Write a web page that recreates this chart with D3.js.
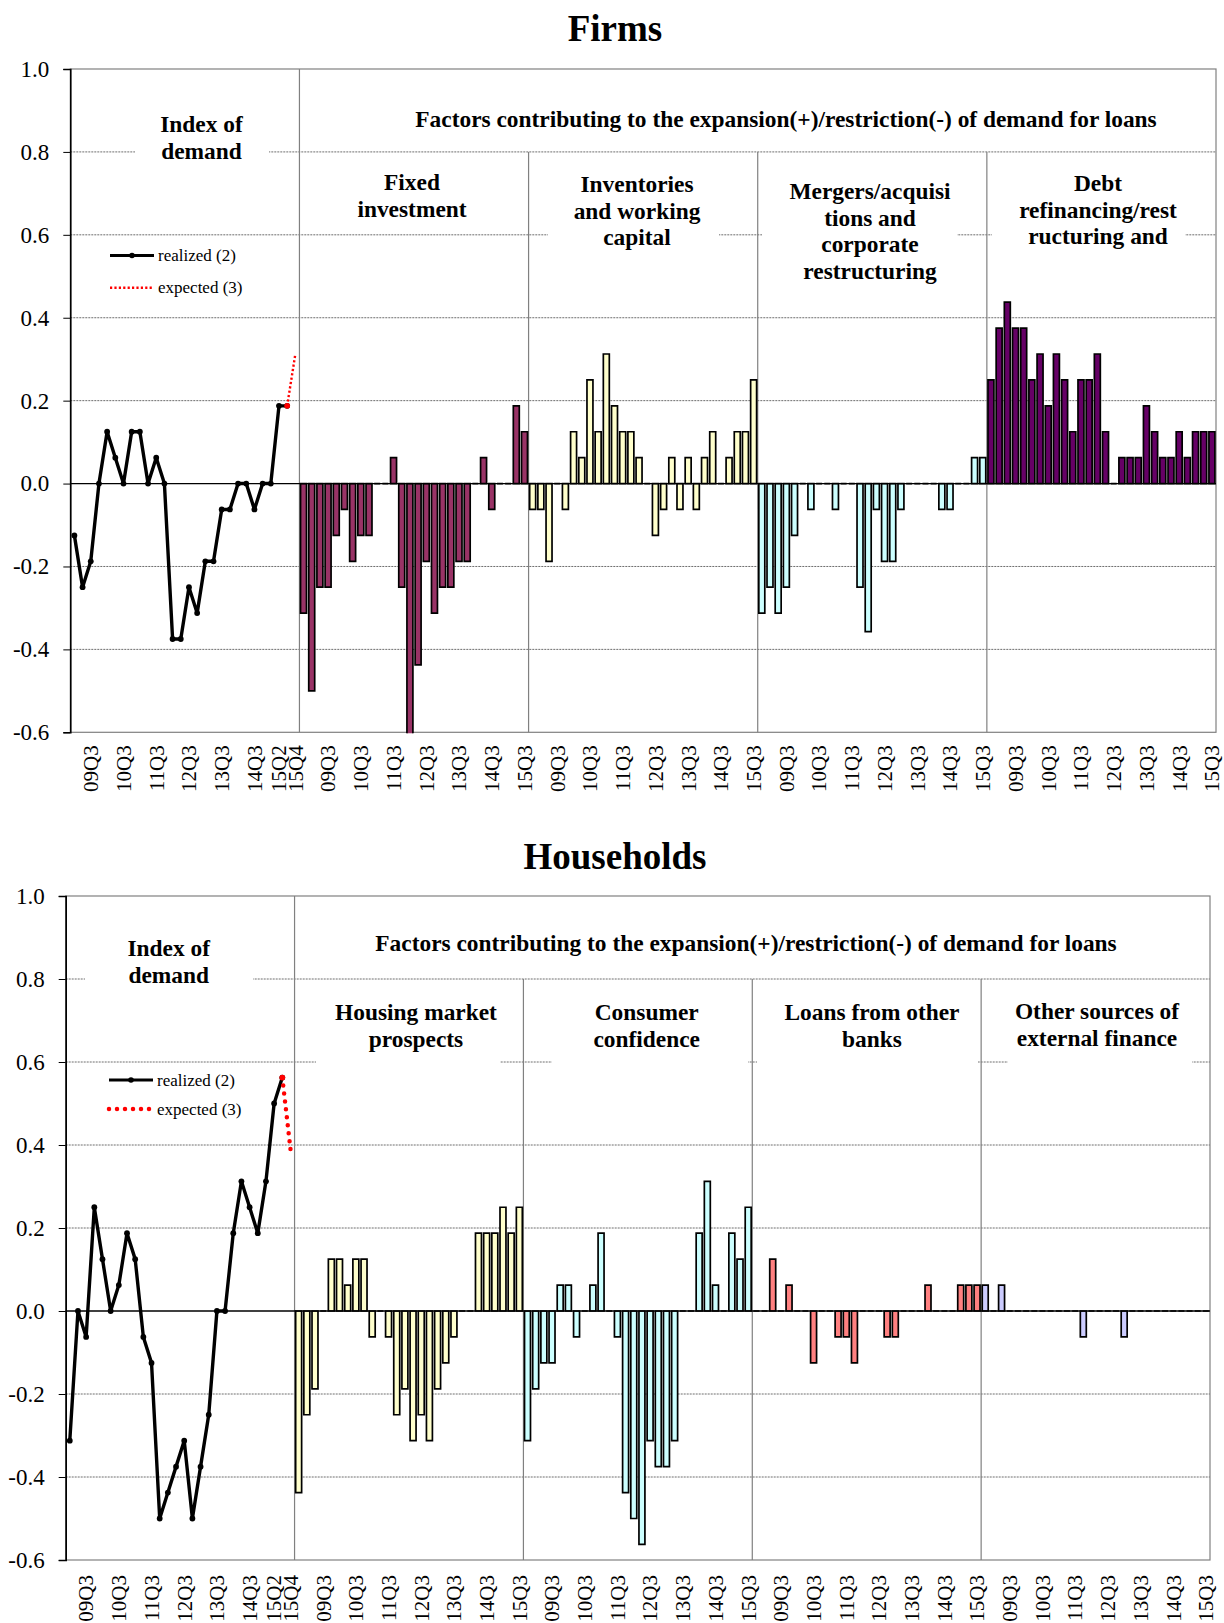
<!DOCTYPE html>
<html><head><meta charset="utf-8">
<script src="https://cdn.jsdelivr.net/npm/d3@7"></script>
<style>
body{margin:0;background:#fff}
svg{display:block}
text{font-family:"Liberation Serif","Times New Roman",serif;fill:#000}
</style>
</head><body>
<svg id="c" width="1224" height="1623"></svg>
<script>
// ---------------- DATA ----------------
const idxQuarters = ["09Q1","09Q2","09Q3","09Q4","10Q1","10Q2","10Q3","10Q4","11Q1","11Q2","11Q3","11Q4","12Q1","12Q2","12Q3","12Q4","13Q1","13Q2","13Q3","13Q4","14Q1","14Q2","14Q3","14Q4","15Q1","15Q2","15Q3","15Q4"];
const barQuarters = ["08Q4","09Q1","09Q2","09Q3","09Q4","10Q1","10Q2","10Q3","10Q4","11Q1","11Q2","11Q3","11Q4","12Q1","12Q2","12Q3","12Q4","13Q1","13Q2","13Q3","13Q4","14Q1","14Q2","14Q3","14Q4","15Q1","15Q2","15Q3"];
const idxTickLabels = ["09Q3","10Q3","11Q3","12Q3","13Q3","14Q3","15Q2","15Q4"];
const barTickLabels = ["09Q3","10Q3","11Q3","12Q3","13Q3","14Q3","15Q3"];
const yTicks = [1.0,0.8,0.6,0.4,0.2,0.0,-0.2,-0.4,-0.6];

// Firms
const firmsRealized = [-0.125,-0.25,-0.1875,0,0.125,0.0625,0,0.125,0.125,0,0.0625,0,-0.375,-0.375,-0.25,-0.3125,-0.1875,-0.1875,-0.0625,-0.0625,0,0,-0.0625,0,0,0.1875,0.1875];
const firmsExpected = [0.1875,0.3125]; // 15Q3 -> 15Q4
const firmsFixed = [-0.3125,-0.5,-0.25,-0.25,-0.125,-0.0625,-0.1875,-0.125,-0.125,0,0,0.0625,-0.25,-0.625,-0.4375,-0.1875,-0.3125,-0.25,-0.25,-0.1875,-0.1875,0,0.0625,-0.0625,0,0,0.1875,0.125];
const firmsInventories = [-0.0625,-0.0625,-0.1875,0,-0.0625,0.125,0.0625,0.25,0.125,0.3125,0.1875,0.125,0.125,0.0625,0,-0.125,-0.0625,0.0625,-0.0625,0.0625,-0.0625,0.0625,0.125,0,0.0625,0.125,0.125,0.25];
const firmsMergers = [-0.3125,-0.25,-0.3125,-0.25,-0.125,0,-0.0625,0,0,-0.0625,0,0,-0.25,-0.357,-0.0625,-0.1875,-0.1875,-0.0625,0,0,0,0,-0.0625,-0.0625,0,0,0.0625,0.0625];
const firmsDebt = [0.25,0.375,0.4375,0.375,0.375,0.25,0.3125,0.1875,0.3125,0.25,0.125,0.25,0.25,0.3125,0.125,0,0.0625,0.0625,0.0625,0.1875,0.125,0.0625,0.0625,0.125,0.0625,0.125,0.125,0.125];

// Households
const hhRealized = [-0.3125,0,-0.0625,0.25,0.125,0,0.0625,0.1875,0.125,-0.0625,-0.125,-0.5,-0.4375,-0.375,-0.3125,-0.5,-0.375,-0.25,0,0,0.1875,0.3125,0.25,0.1875,0.3125,0.5,0.5625];
const hhExpected = [0.5625,0.39];
const hhHousing = [-0.4375,-0.25,-0.1875,0,0.125,0.125,0.0625,0.125,0.125,-0.0625,0,-0.0625,-0.25,-0.1875,-0.3125,-0.25,-0.3125,-0.1875,-0.125,-0.0625,0,0,0.1875,0.1875,0.1875,0.25,0.1875,0.25];
const hhConsumer = [-0.3125,-0.1875,-0.125,-0.125,0.0625,0.0625,-0.0625,0,0.0625,0.1875,0,-0.0625,-0.4375,-0.5,-0.5625,-0.3125,-0.375,-0.375,-0.3125,0,0,0.1875,0.3125,0.0625,0,0.1875,0.125,0.25];
const hhLoans = [0,0,0.125,0,0.0625,0,0,-0.125,0,0,-0.0625,-0.0625,-0.125,0,0,0,-0.0625,-0.0625,0,0,0,0.0625,0,0,0,0.0625,0.0625,0.0625];
const hhOther = [0.0625,0,0.0625,0,0,0,0,0,0,0,0,0,-0.0625,0,0,0,0,-0.0625,0,0,0,0,0,0,0,0,0,0];

// ---------------- DRAWING ----------------
const svg = d3.select("#c");
const GRID = "#6e6e6e";

function drawPanel(cfg){
  const g = svg.append("g");
  const keys = [];
  idxQuarters.forEach(q => keys.push("0|" + q));
  for (let s = 1; s <= 4; s++) barQuarters.forEach(q => keys.push(s + "|" + q));
  const x = d3.scaleBand().domain(keys).range([cfg.left, cfg.right]).paddingInner(0.27).paddingOuter(0.135);
  const y = d3.scaleLinear().domain([-0.6, 1]).range([cfg.bottom, cfg.top]);
  const step = x.step();
  const secX = i => cfg.left + i * 28 * step;
  const cx = k => x(k) + x.bandwidth() / 2;

  // title
  g.append("text").attr("x", cfg.titleX).attr("y", cfg.titleY).attr("text-anchor", "middle")
    .style("font-size", "37px").style("font-weight", "bold").text(cfg.title);

  // grid lines
  g.selectAll(".grid").data(yTicks.filter(t => t !== 0 && t !== 1 && t !== -0.6)).enter().append("line")
    .attr("x1", cfg.left).attr("x2", cfg.right).attr("y1", d => y(d)).attr("y2", d => y(d))
    .attr("stroke", GRID).attr("stroke-width", 1).attr("stroke-dasharray", "2,1");
  // border
  g.append("rect").attr("x", cfg.left).attr("y", y(1)).attr("width", cfg.right - cfg.left).attr("height", y(-0.6) - y(1))
    .attr("fill", "none").attr("stroke", "#808080").attr("stroke-width", 1.2);
  // dividers
  g.append("line").attr("x1", secX(1)).attr("x2", secX(1)).attr("y1", y(1)).attr("y2", y(-0.6)).attr("stroke", "#808080").attr("stroke-width", 1.2);
  for (let i = 2; i <= 4; i++)
    g.append("line").attr("x1", secX(i)).attr("x2", secX(i)).attr("y1", y(0.8)).attr("y2", y(-0.6)).attr("stroke", "#808080").attr("stroke-width", 1.2);

  // white boxes behind annotation texts
  cfg.labels.forEach(L => {
    if (L.box) g.append("rect").attr("x", L.box[0]).attr("y", L.box[2]).attr("width", L.box[1] - L.box[0])
      .attr("height", L.box[3] - L.box[2]).attr("fill", "#fff");
  });
  cfg.labels.forEach(L => {
    const t = g.append("text").attr("text-anchor", "middle").style("font-size", "23.4px").style("font-weight", "bold");
    L.lines.forEach((s, i) => t.append("tspan").attr("x", L.x).attr("y", L.y + i * 26.5).attr("dy", "0.35em").text(s));
  });

  // clip
  const cid = "clip" + cfg.id;
  svg.append("clipPath").attr("id", cid).append("rect").attr("x", cfg.left).attr("y", y(1)).attr("width", cfg.right - cfg.left).attr("height", y(-0.6) - y(1) + 1);

  // bars (drawn as closed paths so that zero values still show as a short stroke)
  cfg.bars.forEach((b, si) => {
    const data = b.values.map((v, i) => ({k: (si + 1) + "|" + barQuarters[i], v}));
    g.append("g").attr("clip-path", `url(#${cid})`).selectAll("path").data(data).enter().append("path")
      .attr("d", d => {
        const x0 = x(d.k), w = x.bandwidth(), y0 = y(0), y1 = y(d.v);
        return `M${x0},${y0}H${x0 + w}V${y1}H${x0}Z`;
      })
      .attr("fill", b.color).attr("stroke", "#000").attr("stroke-width", 1.7).attr("stroke-linejoin", "miter");
  });

  // zero line
  g.append("line").attr("x1", cfg.left).attr("x2", cfg.right).attr("y1", y(0)).attr("y2", y(0)).attr("stroke", "#000").attr("stroke-width", 1.3);

  // left axis
  const ya = d3.axisLeft(y).tickValues(yTicks).tickFormat(d => d.toFixed(1)).tickSize(7).tickPadding(14);
  const yg = g.append("g").attr("transform", `translate(${cfg.left},0)`).call(ya);
  yg.select(".domain").attr("stroke", "#000").attr("stroke-width", 1.6);
  yg.selectAll(".tick line").attr("stroke", "#000");
  yg.selectAll("text").style("font-size", "23px").style("font-family", '"Liberation Serif",serif').attr("fill", "#000");

  // bottom axis labels
  const tickKeys = idxTickLabels.map(q => "0|" + q);
  for (let s = 1; s <= 4; s++) barTickLabels.forEach(q => tickKeys.push(s + "|" + q));
  const xa = d3.axisBottom(x).tickValues(tickKeys).tickFormat(k => k.split("|")[1]).tickSize(0);
  const xg = g.append("g").attr("transform", `translate(0,${y(-0.6)})`).call(xa);
  xg.select(".domain").remove();
  xg.selectAll("text").attr("transform", "rotate(-90)").attr("x", -cfg.xlabGap).attr("y", 0).attr("dy", "0.35em")
    .attr("text-anchor", "end").style("font-size", "21px").style("font-family", '"Liberation Serif",serif').attr("fill", "#000");

  // index line
  const lineGen = d3.line().x(d => cx(d.k)).y(d => y(d.v));
  const real = cfg.realized.map((v, i) => ({k: "0|" + idxQuarters[i], v}));
  const n = cfg.realized.length;
  const exp = cfg.expected.map((v, i) => ({k: "0|" + idxQuarters[n - 1 + i], v}));
  g.append("path").datum(real).attr("d", lineGen).attr("fill", "none").attr("stroke", "#000").attr("stroke-width", 3.4).attr("stroke-linejoin", "round");
  g.selectAll(".pt").data(real).enter().append("circle").attr("cx", d => cx(d.k)).attr("cy", d => y(d.v)).attr("r", 2.9).attr("fill", "#000");
  g.append("path").datum(exp).attr("d", lineGen).attr("fill", "none").attr("stroke", "#f00")
    .attr("stroke-width", cfg.dotW).attr("stroke-dasharray", cfg.dotDash).attr("stroke-linecap", cfg.dotCap);
  g.append("circle").attr("cx", cx(exp[0].k)).attr("cy", y(exp[0].v)).attr("r", 2.9).attr("fill", "#f00");

  // legend
  const lg = g.append("g");
  lg.append("line").attr("x1", cfg.legX).attr("x2", cfg.legX + 44).attr("y1", cfg.legY).attr("y2", cfg.legY).attr("stroke", "#000").attr("stroke-width", 3);
  lg.append("circle").attr("cx", cfg.legX + 22).attr("cy", cfg.legY).attr("r", 2.8).attr("fill", "#000");
  lg.append("text").attr("x", cfg.legX + 48).attr("y", cfg.legY).attr("dy", "0.33em").style("font-size", "17px").text("realized (2)");
  lg.append("line").attr("x1", cfg.legX).attr("x2", cfg.legX + 44).attr("y1", cfg.legY2).attr("y2", cfg.legY2).attr("stroke", "#f00")
    .attr("stroke-width", cfg.dotW).attr("stroke-dasharray", cfg.dotDash).attr("stroke-linecap", cfg.dotCap);
  lg.append("text").attr("x", cfg.legX + 48).attr("y", cfg.legY2).attr("dy", "0.33em").style("font-size", "17px").text("expected (3)");
}

drawPanel({
  id: "f", title: "Firms", titleX: 615, titleY: 41,
  left: 70.3, right: 1216, top: 69, bottom: 732.3, xlabGap: 13,
  realized: firmsRealized, expected: firmsExpected,
  dotW: 2.4, dotDash: "2.2,2.2", dotCap: "butt",
  legX: 110, legY: 255.5, legY2: 287.7,
  bars: [
    {values: firmsFixed, color: "#993366"},
    {values: firmsInventories, color: "#FFFFCC"},
    {values: firmsMergers, color: "#CCFFFF"},
    {values: firmsDebt, color: "#660066"}
  ],
  labels: [
    {lines: ["Index of", "demand"], x: 201.5, y: 124, box: [135, 269, 105, 168]},
    {lines: ["Factors contributing to the expansion(+)/restriction(-) of demand for loans"], x: 786, y: 119},
    {lines: ["Fixed", "investment"], x: 412, y: 182},
    {lines: ["Inventories", "and working", "capital"], x: 637, y: 184, box: [548, 719, 168, 252]},
    {lines: ["Mergers/acquisi", "tions and", "corporate", "restructuring"], x: 870, y: 191, box: [762, 957, 172, 288]},
    {lines: ["Debt", "refinancing/rest", "ructuring and"], x: 1098, y: 183, box: [992, 1185, 168, 252]}
  ]
});

drawPanel({
  id: "h", title: "Households", titleX: 615, titleY: 869,
  left: 65.7, right: 1210, top: 896, bottom: 1560, xlabGap: 15,
  realized: hhRealized, expected: hhExpected,
  dotW: 4.5, dotDash: "0,8", dotCap: "round",
  legX: 109, legY: 1080, legY2: 1109,
  bars: [
    {values: hhHousing, color: "#FFFFCC"},
    {values: hhConsumer, color: "#CCFFFF"},
    {values: hhLoans, color: "#FF8080"},
    {values: hhOther, color: "#CCCCFF"}
  ],
  labels: [
    {lines: ["Index of", "demand"], x: 168.7, y: 948, box: [85, 253, 930, 992]},
    {lines: ["Factors contributing to the expansion(+)/restriction(-) of demand for loans"], x: 746, y: 943},
    {lines: ["Housing market", "prospects"], x: 416, y: 1012, box: [316, 500, 996, 1066]},
    {lines: ["Consumer", "confidence"], x: 646.7, y: 1012, box: [552, 748, 996, 1066]},
    {lines: ["Loans from other", "banks"], x: 872, y: 1012, box: [757, 978, 996, 1066]},
    {lines: ["Other sources of", "external finance"], x: 1097, y: 1011, box: [1008, 1192, 996, 1066]}
  ]
});
</script>
</body></html>
